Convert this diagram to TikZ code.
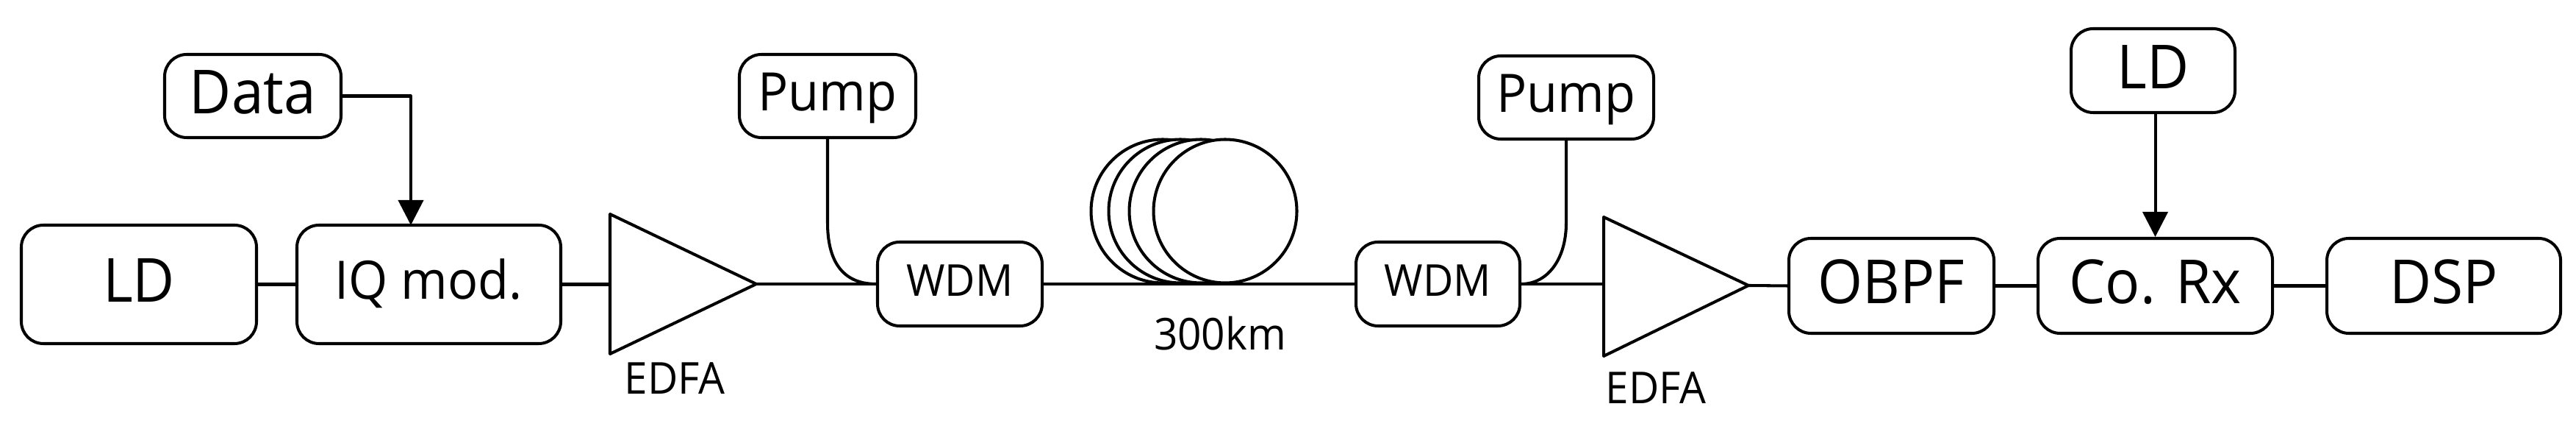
\documentclass[tikz,border=0pt]{standalone}
\usepackage{fontspec}
\setmainfont[FakeStretch=0.95]{Open Sans}
\usepackage{tikz}
\usetikzlibrary{arrows.meta,calc}

\tikzset{
  blockbox/.style={draw,rounded corners=0.3cm,inner sep=0pt,line width=1.15pt,fill=white},
  bigtext/.style={font=\fontsize{23.5}{26}\selectfont,text height=0.69cm,text depth=0.2cm},
  midtext/.style={font=\fontsize{20.5}{24}\selectfont,text height=0.61cm,text depth=0.2cm},
  smalltext/.style={font=\fontsize{17}{20}\selectfont,text height=0.54cm,text depth=0.2cm},
  wire/.style={line width=1.15pt},
}

\begin{document}
\begin{tikzpicture}[>={Stealth[length=3.4mm,width=3.4mm,inset=0pt]},line join=round]
  \useasboundingbox (0,0) rectangle (35.05,5.98);
  % transmitter
  \node[blockbox,bigtext,minimum width=3.20cm,minimum height=1.61cm] (LDt) at (1.89,2.115) {LD};
  \node[blockbox,midtext,minimum width=3.59cm,minimum height=1.61cm] (IQ) at (5.835,2.115) {IQ mod.};
  \node[blockbox,bigtext,minimum width=2.40cm,minimum height=1.13cm] (Data) at (3.44,4.675) {Data};
  \coordinate (IQin) at (5.59,2.92);
  % first amplifier
  \coordinate (AmpAw) at (8.30,2.115);
  \coordinate (AmpAt) at (8.30,3.07);
  \coordinate (AmpAb) at (8.30,1.17);
  \coordinate (AmpAe) at (10.29,2.12);
  \draw[wire] (AmpAt) -- (AmpAe) -- (AmpAb) -- cycle;
  \node[smalltext] (EdfaA) at (9.18,0.79) {EDFA};
  % pump and span
  \node[blockbox,midtext,minimum width=2.40cm,minimum height=1.13cm] (PumpA) at (11.26,4.675) {Pump};
  \node[blockbox,smalltext,minimum width=2.24cm,minimum height=1.14cm] (WdmA) at (13.06,2.12) {WDM};
  \node[blockbox,smalltext,minimum width=2.23cm,minimum height=1.14cm] (WdmB) at (19.565,2.12) {WDM};
  \node[blockbox,midtext,minimum width=2.38cm,minimum height=1.13cm] (PumpB) at (21.31,4.655) {Pump};
  \draw[wire,fill=white] (15.82,3.11) circle (0.975);
  \draw[wire,fill=white] (16.06,3.11) circle (0.975);
  \draw[wire,fill=white] (16.34,3.11) circle (0.975);
  \draw[wire,fill=white] (16.67,3.11) circle (0.975);
  \node[smalltext] (Span) at (16.60,1.39) {300km};
  % second amplifier
  \coordinate (AmpBw) at (21.82,2.12);
  \coordinate (AmpBt) at (21.82,3.03);
  \coordinate (AmpBb) at (21.82,1.14);
  \coordinate (AmpBe) at (23.79,2.10);
  \draw[wire] (AmpBt) -- (AmpBe) -- (AmpBb) -- cycle;
  \node[smalltext] (EdfaB) at (22.53,0.66) {EDFA};
  % receiver
  \node[blockbox,bigtext,minimum width=2.79cm,minimum height=1.29cm] (OBPF) at (25.735,2.095) {OBPF};
  \node[blockbox,bigtext,minimum width=3.19cm,minimum height=1.29cm] (CoRx) at (29.325,2.095) {Co. Rx};
  \node[blockbox,bigtext,minimum width=3.18cm,minimum height=1.29cm] (DSP) at (33.25,2.095) {DSP};
  \node[blockbox,bigtext,minimum width=2.23cm,minimum height=1.14cm] (LDr) at (29.295,5.02) {LD};
  % connections
  \draw[wire] (LDt.east) -- (IQ.west);
  \draw[wire] (IQ.east) -- (AmpAw);
  \draw[wire,->] (Data.east) -| (IQin);
  \draw[wire] (AmpAe) -- (WdmA.west);
  \draw[wire] (PumpA.south) -- (11.26,2.95) .. controls (11.26,2.45) and (11.45,2.12) .. (WdmA.west);
  \draw[wire] (WdmA.east) -- (WdmB.west);
  \draw[wire] (PumpB.south) -- (21.31,2.95) .. controls (21.31,2.45) and (21.05,2.12) .. (WdmB.east);
  \draw[wire] (WdmB.east) -- (AmpBw);
  \draw[wire] (AmpBe) -- (OBPF.west);
  \draw[wire] (OBPF.east) -- (CoRx.west);
  \draw[wire] (CoRx.east) -- (DSP.west);
  \draw[wire,->] (LDr.south -| CoRx.north) -- (CoRx.north);
\end{tikzpicture}
\end{document}
